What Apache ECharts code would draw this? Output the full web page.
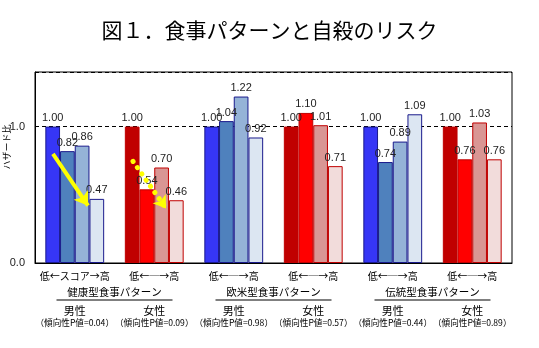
<!DOCTYPE html>
<html>
<head>
<meta charset="utf-8">
<script src="https://cdn.jsdelivr.net/npm/echarts@6/dist/echarts.min.js"></script>
<style>html,body{margin:0;padding:0;background:#fff;}#c{width:539px;height:348px;}</style>
</head>
<body>
<div id="c"></div>
<script>
// ---- data ----
const categories = ['健康型・男性', '健康型・女性', '欧米型・男性', '欧米型・女性', '伝統型・男性', '伝統型・女性'];
const patterns = ['健康型食事パターン', '欧米型食事パターン', '伝統型食事パターン'];
const sexes = ['男性', '女性', '男性', '女性', '男性', '女性'];
const trendP = ['0.04', '0.09', '0.98', '0.57', '0.44', '0.89'];
const scaleLabels = ['低←スコア→高', '低←─→高', '低←─→高', '低←─→高', '低←─→高', '低←─→高'];
const q1 = [1.00, 1.00, 1.00, 1.00, 1.00, 1.00];
const q2 = [0.82, 0.54, 1.04, 1.10, 0.74, 0.76];
const q3 = [0.86, 0.70, 1.22, 1.01, 0.89, 1.03];
const q4 = [0.47, 0.46, 0.92, 0.71, 1.09, 0.76];
const yTickLabels = ['0.0', '1.0'];
// arrow annotations in data space: x in category-band units (0..6), y in hazard ratio
const solidArrow = [[0.226, 0.80], [0.667, 0.42]];
const dottedArrow = [[1.233, 0.745], [1.648, 0.40]];

// ---- styles ----
const blueFill = ['#3636F6', '#4F81BD', '#95B3D7', '#DCE6F2'];
const redFill = ['#C00000', '#FF0000', '#D99694', '#F2DCDB'];
const blueBorder = '#1A1A8C';
const redBorder = '#C00000';
const cjk = '"Noto Sans CJK JP", sans-serif';
const latin = '"Liberation Sans", Arial, sans-serif';

const quartiles = [q1, q2, q3, q4];
const barSeries = quartiles.map((arr, qi) => ({
  type: 'bar',
  name: 'Q' + (qi + 1),
  xAxisIndex: 0,
  yAxisIndex: 0,
  barGap: '0%',
  barCategoryGap: '26%',
  data: arr.map((v, ci) => {
    const male = sexes[ci] === '男性';
    return {
      value: v,
      itemStyle: {
        color: male ? blueFill[qi] : redFill[qi],
        borderColor: male ? blueBorder : redBorder,
        borderWidth: 1
      }
    };
  }),
  label: {
    show: true,
    position: 'top',
    distance: 3,
    fontFamily: latin,
    fontSize: 11,
    color: '#222',
    formatter: p => p.value.toFixed(2)
  },
  z: 2
}));

const chart = echarts.init(document.getElementById('c'), null, { renderer: 'canvas' });
chart.setOption({
  animation: false,
  backgroundColor: '#fff',
  title: {
    text: '図１．食事パターンと自殺のリスク',
    left: 'center',
    top: 15,
    textStyle: { fontFamily: cjk, fontSize: 21, fontWeight: 'normal', color: '#000' }
  },
  grid: {
    left: 35, right: 27, top: 72, bottom: 85,
    show: true, borderColor: '#000', borderWidth: 1, backgroundColor: 'transparent'
  },
  xAxis: [
    {
      type: 'category',
      data: categories,
      position: 'bottom',
      axisLine: { show: true, lineStyle: { color: '#000', width: 1 } },
      axisTick: { show: false },
      axisLabel: {
        margin: 6,
        interval: 0,
        formatter: (val, idx) =>
          '{a|' + scaleLabels[idx] + '}\n{sp| }\n{s|' + sexes[idx] + '}\n{p|（傾向性P値=' + trendP[idx] + '）}',
        rich: {
          a: { fontFamily: cjk, fontSize: 10, lineHeight: 14, color: '#000' },
          sp: { fontSize: 6, lineHeight: 22 },
          s: { fontFamily: cjk, fontSize: 11, lineHeight: 12, color: '#000' },
          p: { fontFamily: cjk, fontSize: 8.6, lineHeight: 12, color: '#000' }
        }
      }
    },
    {
      type: 'category',
      data: patterns,
      position: 'bottom',
      axisLine: { show: false },
      axisTick: { show: false },
      axisLabel: {
        margin: 22,
        interval: 0,
        formatter: v => '{g|' + v + '}\n{u| }',
        rich: {
          g: { fontFamily: cjk, fontSize: 10.5, lineHeight: 14, color: '#000' },
          u: { fontSize: 1, lineHeight: 2, width: 116, height: 1, backgroundColor: '#000' }
        }
      }
    },
    {
      type: 'value',
      show: false,
      min: 0,
      max: 6,
      position: 'top'
    }
  ],
  yAxis: {
    type: 'value',
    min: 0,
    max: 1.4,
    interval: 1,
    axisLine: { show: true, lineStyle: { color: '#000', width: 1 } },
    axisTick: { show: false },
    axisLabel: {
      margin: 10,
      showMaxLabel: false,
      fontFamily: latin,
      fontSize: 11,
      color: '#222',
      formatter: v => yTickLabels[Math.round(v)] || ''
    },
    splitLine: { show: true, lineStyle: { color: '#000', width: 1, type: [4, 3] } }
  },
  graphic: [{
    type: 'text',
    x: 7,
    y: 147,
    rotation: Math.PI / 2,
    style: {
      text: 'ハザード比',
      fontFamily: cjk,
      fontSize: 9,
      fill: '#000',
      align: 'center',
      verticalAlign: 'middle'
    }
  }],
  series: barSeries.concat([
    {
      type: 'lines',
      coordinateSystem: 'cartesian2d',
      xAxisIndex: 2,
      yAxisIndex: 0,
      symbol: ['none', 'arrow'],
      symbolSize: 13,
      lineStyle: { color: '#FFFF00', width: 4, opacity: 1 },
      data: [{ coords: solidArrow }],
      z: 5
    },
    {
      type: 'lines',
      coordinateSystem: 'cartesian2d',
      xAxisIndex: 2,
      yAxisIndex: 0,
      symbol: ['none', 'arrow'],
      symbolSize: 12,
      lineStyle: { color: '#FFFF00', width: 5, opacity: 1, type: [0.1, 7.5], cap: 'round' },
      data: [{ coords: dottedArrow }],
      z: 5
    }
  ])
});
</script>
</body>
</html>
